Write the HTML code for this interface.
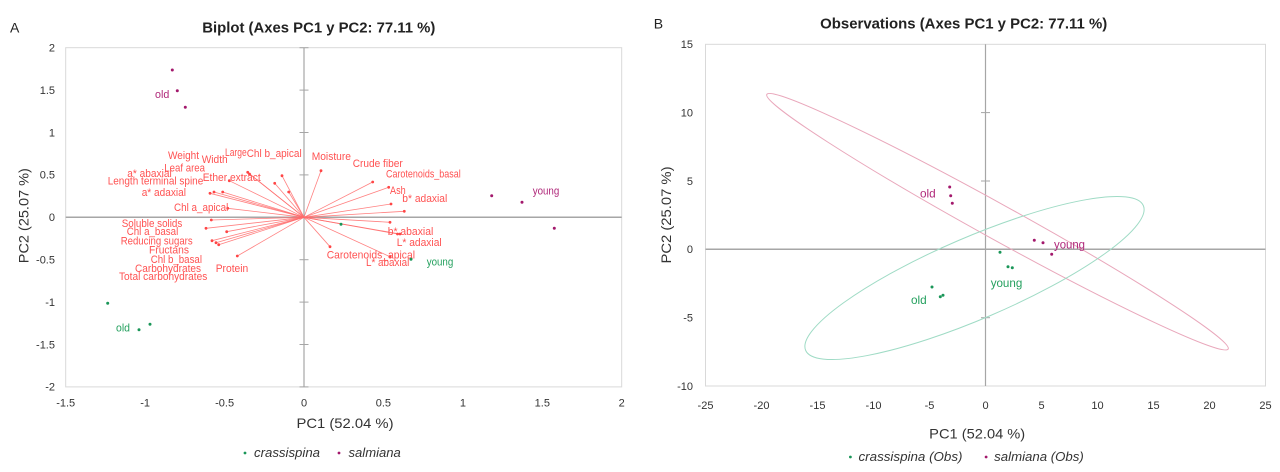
<!DOCTYPE html>
<html><head><meta charset="utf-8"><style>html,body{margin:0;padding:0;background:#fff}svg{display:block}</style></head>
<body>
<svg width="1280" height="472" viewBox="0 0 1280 472" xmlns="http://www.w3.org/2000/svg" font-family="'Liberation Sans', sans-serif">
<rect width="1280" height="472" fill="#fff"/>

<!-- ================= LEFT CHART ================= -->
<text x="10" y="32.5" font-size="14" fill="#222">A</text>
<text x="202.3" y="32.5" font-size="14.5" font-weight="bold" fill="#222" textLength="233" lengthAdjust="spacingAndGlyphs">Biplot (Axes PC1 y PC2: 77.11 %)</text>

<rect x="65.7" y="47.7" width="556" height="339.2" fill="none" stroke="#d9d9d9" stroke-width="1"/>
<line x1="65.7" y1="217.3" x2="621.7" y2="217.3" stroke="#a6a6a6" stroke-width="1.5"/>
<line x1="304" y1="47.7" x2="304" y2="386.9" stroke="#a6a6a6" stroke-width="1.2"/>
<g stroke="#a6a6a6" stroke-width="1">
<line x1="299.5" y1="47.7" x2="308.5" y2="47.7"/>
<line x1="299.5" y1="90.1" x2="308.5" y2="90.1"/>
<line x1="299.5" y1="132.5" x2="308.5" y2="132.5"/>
<line x1="299.5" y1="174.9" x2="308.5" y2="174.9"/>
<line x1="299.5" y1="259.7" x2="308.5" y2="259.7"/>
<line x1="299.5" y1="302.1" x2="308.5" y2="302.1"/>
<line x1="299.5" y1="344.5" x2="308.5" y2="344.5"/>
<line x1="299.5" y1="386.9" x2="308.5" y2="386.9"/>
</g>
<g font-size="11" fill="#333" text-anchor="end">
<text x="55" y="51.5">2</text>
<text x="55" y="93.9">1.5</text>
<text x="55" y="136.3">1</text>
<text x="55" y="178.7">0.5</text>
<text x="55" y="221.1">0</text>
<text x="55" y="263.5">-0.5</text>
<text x="55" y="305.9">-1</text>
<text x="55" y="348.3">-1.5</text>
<text x="55" y="390.7">-2</text>
</g>
<g font-size="11" fill="#333" text-anchor="middle">
<text x="65.7" y="406.5">-1.5</text>
<text x="145.1" y="406.5">-1</text>
<text x="224.6" y="406.5">-0.5</text>
<text x="304" y="406.5">0</text>
<text x="383.4" y="406.5">0.5</text>
<text x="462.9" y="406.5">1</text>
<text x="542.3" y="406.5">1.5</text>
<text x="621.7" y="406.5">2</text>
</g>
<text x="296.5" y="428" font-size="14" fill="#333" textLength="97" lengthAdjust="spacingAndGlyphs">PC1 (52.04 %)</text>
<text transform="translate(28.5,263.2) rotate(-90)" font-size="14" fill="#333" textLength="95" lengthAdjust="spacingAndGlyphs">PC2 (25.07 %)</text>

<!-- vectors -->
<g stroke="#ff6b6b" stroke-width="0.8" stroke-opacity="0.85">
<line x1="304" y1="217.3" x2="210" y2="193.3"/>
<line x1="304" y1="217.3" x2="214" y2="192"/>
<line x1="304" y1="217.3" x2="222.7" y2="192"/>
<line x1="304" y1="217.3" x2="229.3" y2="180.7"/>
<line x1="304" y1="217.3" x2="247.7" y2="172.3"/>
<line x1="304" y1="217.3" x2="249.5" y2="174"/>
<line x1="304" y1="217.3" x2="274.7" y2="183.3"/>
<line x1="304" y1="217.3" x2="282" y2="175.7"/>
<line x1="304" y1="217.3" x2="288.7" y2="192"/>
<line x1="304" y1="217.3" x2="227.7" y2="208.3"/>
<line x1="304" y1="217.3" x2="211.3" y2="220"/>
<line x1="304" y1="217.3" x2="206" y2="228.3"/>
<line x1="304" y1="217.3" x2="226.7" y2="231.7"/>
<line x1="304" y1="217.3" x2="212" y2="240.7"/>
<line x1="304" y1="217.3" x2="216" y2="242.7"/>
<line x1="304" y1="217.3" x2="218.7" y2="244.7"/>
<line x1="304" y1="217.3" x2="237.3" y2="256"/>
<line x1="304" y1="217.3" x2="321" y2="170.7"/>
<line x1="304" y1="217.3" x2="372.7" y2="182"/>
<line x1="304" y1="217.3" x2="388.7" y2="187.3"/>
<line x1="304" y1="217.3" x2="391" y2="204"/>
<line x1="304" y1="217.3" x2="404.3" y2="211.3"/>
<line x1="304" y1="217.3" x2="390" y2="222.3"/>
<line x1="304" y1="217.3" x2="400" y2="234"/>
<line x1="304" y1="217.3" x2="397.5" y2="234"/>
<line x1="304" y1="217.3" x2="330" y2="246.7"/>
<line x1="304" y1="217.3" x2="390" y2="256.7"/>
</g>
<g fill="#ff4545">
<circle cx="210" cy="193.3" r="1.4"/><circle cx="214" cy="192" r="1.4"/><circle cx="222.7" cy="192" r="1.4"/>
<circle cx="229.3" cy="180.7" r="1.4"/><circle cx="247.7" cy="172.3" r="1.4"/><circle cx="249.5" cy="174" r="1.4"/>
<circle cx="274.7" cy="183.3" r="1.4"/><circle cx="282" cy="175.7" r="1.4"/><circle cx="288.7" cy="192" r="1.4"/>
<circle cx="227.7" cy="208.3" r="1.4"/><circle cx="211.3" cy="220" r="1.4"/><circle cx="206" cy="228.3" r="1.4"/>
<circle cx="226.7" cy="231.7" r="1.4"/><circle cx="212" cy="240.7" r="1.4"/><circle cx="216" cy="242.7" r="1.4"/>
<circle cx="218.7" cy="244.7" r="1.4"/><circle cx="237.3" cy="256" r="1.4"/><circle cx="321" cy="170.7" r="1.4"/>
<circle cx="372.7" cy="182" r="1.4"/><circle cx="388.7" cy="187.3" r="1.4"/><circle cx="391" cy="204" r="1.4"/>
<circle cx="404.3" cy="211.3" r="1.4"/><circle cx="390" cy="222.3" r="1.4"/><circle cx="400" cy="234" r="1.4"/>
<circle cx="397.5" cy="234" r="1.4"/><circle cx="330" cy="246.7" r="1.4"/><circle cx="390" cy="256.7" r="1.4"/>
</g>
<g font-size="11" fill="#ff5252">
<text x="168" y="159.2" textLength="31" lengthAdjust="spacingAndGlyphs">Weight</text>
<text x="201.7" y="162.8" textLength="26" lengthAdjust="spacingAndGlyphs">Width</text>
<text x="225" y="156.2" textLength="21.7" lengthAdjust="spacingAndGlyphs">Large</text>
<text x="246.7" y="156.8" textLength="55" lengthAdjust="spacingAndGlyphs">Chl b_apical</text>
<text x="164.3" y="171.5" textLength="40.7" lengthAdjust="spacingAndGlyphs">Leaf area</text>
<text x="127.3" y="176.8" textLength="44.4" lengthAdjust="spacingAndGlyphs">a* abaxial</text>
<text x="107.7" y="184.5" textLength="95.6" lengthAdjust="spacingAndGlyphs">Length terminal spine</text>
<text x="202.7" y="181.2" textLength="58" lengthAdjust="spacingAndGlyphs">Ether extract</text>
<text x="141.7" y="196.2" textLength="44.3" lengthAdjust="spacingAndGlyphs">a* adaxial</text>
<text x="174" y="211.2" textLength="54.3" lengthAdjust="spacingAndGlyphs">Chl a_apical</text>
<text x="121.7" y="226.8" textLength="60.6" lengthAdjust="spacingAndGlyphs">Soluble solids</text>
<text x="126.7" y="235.2" textLength="51.6" lengthAdjust="spacingAndGlyphs">Chl a_basal</text>
<text x="120.7" y="244.5" textLength="72" lengthAdjust="spacingAndGlyphs">Reducing sugars</text>
<text x="149" y="253.5" textLength="40" lengthAdjust="spacingAndGlyphs">Fructans</text>
<text x="150.7" y="262.8" textLength="51.3" lengthAdjust="spacingAndGlyphs">Chl b_basal</text>
<text x="135" y="272.2" textLength="66" lengthAdjust="spacingAndGlyphs">Carbohydrates</text>
<text x="119" y="280.2" textLength="88.3" lengthAdjust="spacingAndGlyphs">Total carbohydrates</text>
<text x="215.7" y="272.2" textLength="32.6" lengthAdjust="spacingAndGlyphs">Protein</text>
<text x="311.7" y="160.2" textLength="39.3" lengthAdjust="spacingAndGlyphs">Moisture</text>
<text x="352.7" y="166.8" textLength="50" lengthAdjust="spacingAndGlyphs">Crude fiber</text>
<text x="386" y="177.5" textLength="74.7" lengthAdjust="spacingAndGlyphs">Carotenoids_basal</text>
<text x="390" y="194.2" textLength="15.7" lengthAdjust="spacingAndGlyphs">Ash</text>
<text x="402.3" y="201.8" textLength="45" lengthAdjust="spacingAndGlyphs">b* adaxial</text>
<text x="387.7" y="235.2" textLength="45.6" lengthAdjust="spacingAndGlyphs">b* abaxial</text>
<text x="396.7" y="246.2" textLength="45" lengthAdjust="spacingAndGlyphs">L* adaxial</text>
<text x="326.7" y="258.5" textLength="88.3" lengthAdjust="spacingAndGlyphs">Carotenoids_apical</text>
<text x="366" y="265.8" textLength="43.3" lengthAdjust="spacingAndGlyphs">L* abaxial</text>
</g>
<!-- observations left -->
<g fill="#a3186c">
<circle cx="172.3" cy="70" r="1.5"/><circle cx="177.3" cy="90.7" r="1.5"/><circle cx="185.3" cy="107.3" r="1.5"/>
<circle cx="491.7" cy="195.7" r="1.5"/><circle cx="522" cy="202.3" r="1.5"/><circle cx="554.3" cy="228.3" r="1.5"/>
</g>
<g fill="#1a9658">
<circle cx="107.7" cy="303.3" r="1.5"/><circle cx="139" cy="329.7" r="1.5"/><circle cx="150" cy="324.3" r="1.5"/>
<circle cx="341" cy="224.3" r="1.5"/><circle cx="411" cy="259.3" r="1.5"/>
</g>
<text x="155" y="98" font-size="11" fill="#b0287a" textLength="14.3" lengthAdjust="spacingAndGlyphs">old</text>
<text x="532.7" y="194.5" font-size="11" fill="#b0287a" textLength="26.6" lengthAdjust="spacingAndGlyphs">young</text>
<text x="116" y="331.5" font-size="11" fill="#24a05e" textLength="14" lengthAdjust="spacingAndGlyphs">old</text>
<text x="426.7" y="265.5" font-size="11" fill="#24a05e" textLength="26.6" lengthAdjust="spacingAndGlyphs">young</text>

<!-- legend left -->
<circle cx="245" cy="453" r="1.4" fill="#1a9658"/>
<text x="254" y="456.8" font-size="13" font-style="italic" fill="#333" textLength="66" lengthAdjust="spacingAndGlyphs">crassispina</text>
<circle cx="339" cy="453" r="1.4" fill="#a3186c"/>
<text x="348.5" y="456.8" font-size="13" font-style="italic" fill="#333" textLength="52.3" lengthAdjust="spacingAndGlyphs">salmiana</text>

<!-- ================= RIGHT CHART ================= -->
<text x="653.8" y="28.3" font-size="14" fill="#222">B</text>
<text x="820.2" y="28.3" font-size="14.5" font-weight="bold" fill="#222" textLength="287" lengthAdjust="spacingAndGlyphs">Observations (Axes PC1 y PC2: 77.11 %)</text>

<rect x="705.5" y="44.3" width="560" height="341.7" fill="none" stroke="#d9d9d9" stroke-width="1"/>
<line x1="705.5" y1="249.3" x2="1265.5" y2="249.3" stroke="#a6a6a6" stroke-width="1.5"/>
<line x1="985.5" y1="44.3" x2="985.5" y2="386" stroke="#a6a6a6" stroke-width="1.2"/>
<g stroke="#a6a6a6" stroke-width="1">
<line x1="981" y1="112.6" x2="990" y2="112.6"/>
<line x1="981" y1="181" x2="990" y2="181"/>
<line x1="981" y1="317.7" x2="990" y2="317.7"/>
</g>
<g font-size="11" fill="#333" text-anchor="end">
<text x="693" y="48.1">15</text>
<text x="693" y="116.4">10</text>
<text x="693" y="184.8">5</text>
<text x="693" y="253.1">0</text>
<text x="693" y="321.5">-5</text>
<text x="693" y="389.8">-10</text>
</g>
<g font-size="11" fill="#333" text-anchor="middle">
<text x="705.5" y="409">-25</text>
<text x="761.5" y="409">-20</text>
<text x="817.5" y="409">-15</text>
<text x="873.5" y="409">-10</text>
<text x="929.5" y="409">-5</text>
<text x="985.5" y="409">0</text>
<text x="1041.5" y="409">5</text>
<text x="1097.5" y="409">10</text>
<text x="1153.5" y="409">15</text>
<text x="1209.5" y="409">20</text>
<text x="1265.5" y="409">25</text>
</g>
<text x="929.2" y="438.5" font-size="14" fill="#333" textLength="96" lengthAdjust="spacingAndGlyphs">PC1 (52.04 %)</text>
<text transform="translate(671,263.5) rotate(-90)" font-size="14" fill="#333" textLength="97" lengthAdjust="spacingAndGlyphs">PC2 (25.07 %)</text>

<!-- ellipses -->
<ellipse cx="997.5" cy="221.7" rx="263.5" ry="17.5" transform="rotate(28.9 997.5 221.7)" fill="none" stroke="#e9a7bb" stroke-width="1"/>
<ellipse cx="974.5" cy="278" rx="183.7" ry="40.8" transform="rotate(-23.2 974.5 278)" fill="none" stroke="#9fdbc5" stroke-width="1"/>

<!-- observations right -->
<g fill="#a3186c">
<circle cx="949.7" cy="187" r="1.5"/><circle cx="950.7" cy="195.7" r="1.5"/><circle cx="952.3" cy="203.3" r="1.5"/>
<circle cx="1034.3" cy="240.3" r="1.5"/><circle cx="1043" cy="242.7" r="1.5"/><circle cx="1051.7" cy="254.3" r="1.5"/>
</g>
<g fill="#1a9658">
<circle cx="1000" cy="252.3" r="1.5"/><circle cx="1008" cy="266.7" r="1.5"/><circle cx="1012.3" cy="267.7" r="1.5"/>
<circle cx="932" cy="287" r="1.5"/><circle cx="940.3" cy="296.7" r="1.5"/><circle cx="943" cy="295.3" r="1.5"/>
</g>
<text x="920" y="197.5" font-size="12" fill="#b0287a" textLength="15.7" lengthAdjust="spacingAndGlyphs">old</text>
<text x="1054" y="248.5" font-size="12" fill="#b0287a" textLength="31" lengthAdjust="spacingAndGlyphs">young</text>
<text x="990.7" y="287" font-size="12" fill="#24a05e" textLength="31.6" lengthAdjust="spacingAndGlyphs">young</text>
<text x="911" y="304" font-size="12" fill="#24a05e" textLength="15.7" lengthAdjust="spacingAndGlyphs">old</text>

<!-- legend right -->
<circle cx="850.4" cy="457" r="1.4" fill="#1a9658"/>
<text x="858.5" y="461" font-size="13" font-style="italic" fill="#333" textLength="104" lengthAdjust="spacingAndGlyphs">crassispina (Obs)</text>
<circle cx="986.1" cy="457" r="1.4" fill="#a3186c"/>
<text x="994.2" y="461" font-size="13" font-style="italic" fill="#333" textLength="89.6" lengthAdjust="spacingAndGlyphs">salmiana (Obs)</text>
</svg>
</body></html>
